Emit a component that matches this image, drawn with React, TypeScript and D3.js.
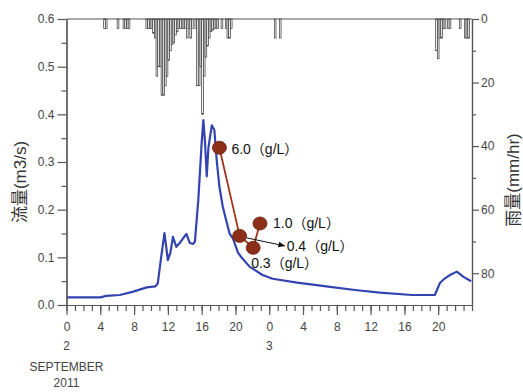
import { useRef, useEffect } from 'react'
import * as d3 from 'd3'

const W = 523
const H = 392
const MARGIN = { top: 19, right: 51, bottom: 87, left: 66.5 }

// hours since 0:00 on 2 September 2011
const flowHours = [0, 4, 4.7, 6.3, 7.9, 9.5, 10.5, 10.8, 11.2, 11.6, 12.0, 12.3, 12.6, 13.0, 13.4, 13.8, 14.2, 14.6, 15.0, 15.2, 15.6, 16.0, 16.2, 16.4, 16.6, 16.8, 17.2, 17.5, 17.8, 18.1, 18.5, 18.9, 19.3, 19.7, 20.3, 20.7, 21.7, 23.2, 24.4, 27.3, 31.2, 34.4, 37.1, 40.9, 43.6, 44.2, 44.8, 45.4, 46.2, 47.0, 47.9]
const flowValues = [0.016, 0.016, 0.019, 0.021, 0.028, 0.037, 0.039, 0.045, 0.1, 0.151, 0.094, 0.11, 0.143, 0.122, 0.13, 0.14, 0.149, 0.13, 0.128, 0.133, 0.22, 0.34, 0.388, 0.34, 0.27, 0.33, 0.377, 0.367, 0.3, 0.248, 0.206, 0.178, 0.15, 0.14, 0.11, 0.1, 0.08, 0.063, 0.055, 0.047, 0.038, 0.031, 0.026, 0.021, 0.021, 0.046, 0.056, 0.063, 0.07, 0.059, 0.05]

const rainHours = [4.4, 4.6, 6.0, 6.7, 6.9, 7.1, 7.3, 9.4, 9.6, 9.8, 10.0, 10.2, 10.4, 10.6, 10.8, 11.0, 11.2, 11.4, 11.6, 11.8, 12.0, 12.2, 12.4, 12.6, 12.8, 13.0, 13.2, 13.4, 13.6, 13.8, 14.0, 14.2, 14.4, 14.6, 14.8, 15.2, 15.4, 15.6, 15.8, 16.0, 16.2, 16.4, 16.6, 16.8, 17.0, 17.2, 17.4, 17.6, 17.8, 18.3, 18.8, 19.0, 19.2, 19.4, 24.6, 25.2, 43.7, 43.9, 44.1, 44.3, 44.5, 44.7, 45.1, 45.3, 46.5, 47.1, 47.3, 47.5]
const rainMm = [3, 3, 3, 3, 3, 3, 3, 3, 3, 3, 3, 4.5, 6, 18, 15, 15, 24, 24, 21, 18, 13, 10, 8, 7.5, 5, 4, 3, 3, 3, 3, 3, 6, 3, 6, 3, 3, 21, 21, 15, 30, 18, 12, 8.5, 6, 4, 3.5, 3, 3, 3, 3, 3, 6, 6, 3, 6, 6, 10, 12.5, 6, 6, 3, 3, 3, 3, 3, 6, 6, 6]
const RAIN_BIN = 0.2

// suspended sediment samples
const sedHours = [18.1, 20.5, 22.1, 22.9]
const sedFlow = [0.33, 0.145, 0.12, 0.171]
const sedLabels = ['6.0（g/L）', '0.4（g/L）', '0.3（g/L）', '1.0（g/L）']

const majorHours = d3.range(0, 48, 4)
const minorHours = d3.range(0, 49, 1)
const dayHours = [0, 24]
const dayLabels = ['2', '3']
const monthLabel = 'SEPTEMBER'
const yearLabel = '2011'
const flowTicks = [0, 0.1, 0.2, 0.3, 0.4, 0.5, 0.6]
const rainTicks = [0, 20, 40, 60, 80]

const LATIN = '"Liberation Sans", Arial, "Noto Sans CJK JP", sans-serif'
const TEXT = '#444'
const AXIS = '#555'

export default function App() {
  const svgRef = useRef<SVGSVGElement>(null)

  useEffect(() => {
    if (!svgRef.current) return
    const svg = d3.select(svgRef.current)
    svg.selectAll('*').remove()

    const x0 = MARGIN.left
    const x1 = W - MARGIN.right
    const yTop = MARGIN.top
    const yBot = H - MARGIN.bottom

    const x = d3.scaleLinear().domain([0, 48]).range([x0, x1])
    const yFlow = d3.scaleLinear().domain([0, 0.6]).range([yBot, yTop])
    const yRain = d3.scaleLinear().domain([0, 90]).range([yTop, yBot])

    const defs = svg.append('defs')
    defs.append('marker')
      .attr('id', 'arr')
      .attr('viewBox', '0 0 10 10')
      .attr('refX', 9).attr('refY', 5)
      .attr('markerWidth', 7).attr('markerHeight', 7)
      .attr('orient', 'auto')
      .append('path').attr('d', 'M0,1 L10,5 L0,9 Z').attr('fill', '#111')

    // Rain hyetograph hanging from the top
    const rain = rainHours.map((h, i) => ({ h, v: rainMm[i] }))
    svg.append('g')
      .selectAll('rect')
      .data(rain)
      .join('rect')
      .attr('x', (d) => x(d.h))
      .attr('y', yRain(0))
      .attr('width', (d) => x(d.h + RAIN_BIN) - x(d.h))
      .attr('height', (d) => yRain(d.v) - yRain(0))
      .attr('fill', '#f2f2f2')
      .attr('stroke', '#3a3a3a')
      .attr('stroke-width', 0.7)

    // Flow line
    const flow = flowHours.map((h, i) => ({ h, v: flowValues[i] }))
    const line = d3.line<{ h: number; v: number }>()
      .x((d) => x(d.h))
      .y((d) => yFlow(d.v))
    svg.append('path')
      .datum(flow)
      .attr('fill', 'none')
      .attr('stroke', '#3344b0')
      .attr('stroke-width', 2.2)
      .attr('stroke-linejoin', 'round')
      .attr('d', line)

    // Frame top
    svg.append('line')
      .attr('x1', x0).attr('x2', x1).attr('y1', yTop).attr('y2', yTop)
      .attr('stroke', AXIS).attr('stroke-width', 1.2)

    const styleAxis = (g: d3.Selection<SVGGElement, unknown, null, undefined>) => {
      g.select('.domain').attr('stroke', AXIS).attr('stroke-width', 1.2)
      g.selectAll('.tick line').attr('stroke', AXIS).attr('stroke-width', 1.2)
      g.selectAll('text').attr('fill', TEXT).attr('font-size', '12px').attr('font-family', LATIN)
    }

    // X axis
    svg.append('g')
      .attr('transform', `translate(0,${yBot})`)
      .call(d3.axisBottom(x).tickValues(minorHours).tickSize(6).tickSizeOuter(0).tickFormat(() => ''))
      .call(styleAxis)
    svg.append('g')
      .attr('transform', `translate(0,${yBot})`)
      .call(d3.axisBottom(x).tickValues(majorHours).tickSize(10).tickSizeOuter(0).tickPadding(7)
        .tickFormat((d) => String(+d % 24)))
      .call(styleAxis)

    // Day, month, year
    const dates = svg.append('g').attr('fill', TEXT).attr('font-size', '12px')
      .attr('font-family', LATIN).attr('text-anchor', 'middle')
    dates.selectAll('text.day')
      .data(dayHours)
      .join('text')
      .attr('class', 'day')
      .attr('x', (d) => x(d))
      .attr('y', yBot + 45)
      .text((_, i) => dayLabels[i])
    dates.append('text').attr('x', x(0)).attr('y', yBot + 66).text(monthLabel)
    dates.append('text').attr('x', x(0)).attr('y', yBot + 82).text(yearLabel)

    // Left axis (flow)
    svg.append('g')
      .attr('transform', `translate(${x0},0)`)
      .call(d3.axisLeft(yFlow).tickValues(d3.range(0.05, 0.6, 0.1)).tickSize(5).tickSizeOuter(0).tickFormat(() => ''))
      .call(styleAxis)
    svg.append('g')
      .attr('transform', `translate(${x0},0)`)
      .call(d3.axisLeft(yFlow).tickValues(flowTicks).tickSize(9).tickSizeOuter(0).tickPadding(3)
        .tickFormat(d3.format('.1f')))
      .call(styleAxis)

    // Right axis (rain)
    svg.append('g')
      .attr('transform', `translate(${x1},0)`)
      .call(d3.axisRight(yRain).tickValues([10, 30, 50, 70]).tickSize(4).tickSizeOuter(0).tickFormat(() => ''))
      .call(styleAxis)
    svg.append('g')
      .attr('transform', `translate(${x1},0)`)
      .call(d3.axisRight(yRain).tickValues(rainTicks).tickSize(7).tickSizeOuter(0).tickPadding(2))
      .call(styleAxis)

    // Axis titles
    svg.append('text')
      .attr('transform', `translate(26,${(yTop + yBot) / 2 + 20}) rotate(-90)`)
      .attr('text-anchor', 'middle')
      .attr('fill', '#333')
      .attr('font-size', '17px')
      .attr('font-family', LATIN)
      .text('流量(m3/s)')
    svg.append('text')
      .attr('transform', `translate(519,${(yTop + yBot) / 2 + 18}) rotate(-90)`)
      .attr('text-anchor', 'middle')
      .attr('fill', '#333')
      .attr('font-size', '17px')
      .attr('font-family', LATIN)
      .text('雨量(mm/hr)')

    // Sediment samples
    const sed = sedHours.map((h, i) => ({ h, v: sedFlow[i], label: sedLabels[i] }))
    const sedLine = d3.line<{ h: number; v: number }>()
      .x((d) => x(d.h))
      .y((d) => yFlow(d.v))
    svg.append('path')
      .datum(sed)
      .attr('fill', 'none')
      .attr('stroke', '#a0341c')
      .attr('stroke-width', 1.8)
      .attr('d', sedLine)

    // arrow from the second sample to its label
    const labelOffsets = [[12, 6], [47, 15], [-2, 20], [13, 5]]
    const b = sed[1]
    svg.append('line')
      .attr('x1', x(b.h) + 7).attr('y1', yFlow(b.v) + 2)
      .attr('x2', x(b.h) + labelOffsets[1][0] - 2).attr('y2', yFlow(b.v) + labelOffsets[1][1] - 5)
      .attr('stroke', '#111').attr('stroke-width', 1)
      .attr('marker-end', 'url(#arr)')

    svg.append('g')
      .selectAll('ellipse')
      .data(sed)
      .join('ellipse')
      .attr('cx', (d) => x(d.h))
      .attr('cy', (d) => yFlow(d.v))
      .attr('rx', 7)
      .attr('ry', 6.5)
      .attr('fill', '#8c2f18')
      .attr('stroke', '#6a200e')
      .attr('stroke-width', 0.8)

    svg.append('g')
      .selectAll('text')
      .data(sed)
      .join('text')
      .attr('x', (d, i) => x(d.h) + labelOffsets[i][0])
      .attr('y', (d, i) => yFlow(d.v) + labelOffsets[i][1])
      .attr('fill', '#111')
      .attr('font-size', '14px')
      .attr('font-family', LATIN)
      .text((d) => d.label)
  }, [])

  return (
    <div style={{ position: 'absolute', left: 0, top: 0, width: W, height: H, background: '#fff' }}>
      <svg ref={svgRef} width={W} height={H} style={{ display: 'block' }} />
    </div>
  )
}
